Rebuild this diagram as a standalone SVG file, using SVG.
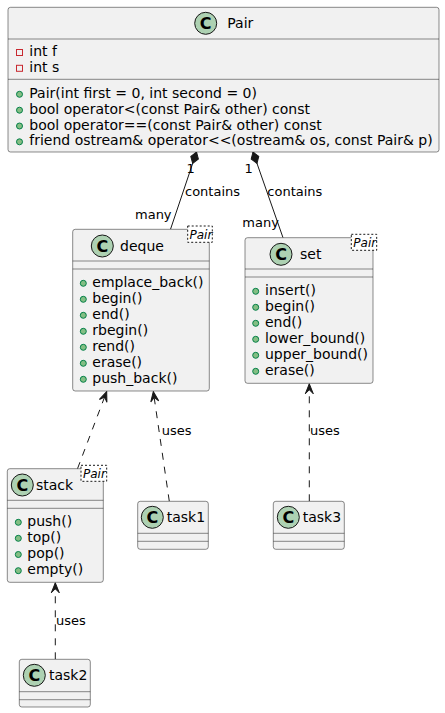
<svg xmlns="http://www.w3.org/2000/svg" width="445" height="713" viewBox="0 0 445 713">
<defs>
<style>
.box{fill:#F1F1F1;stroke:#181818;stroke-width:0.5}
.div{stroke:#181818;stroke-width:0.5}
.ci{fill:#ADD1B2;stroke:#181818;stroke-width:1}
.cl{font-family:"DejaVu Sans",sans-serif;font-size:16px;font-weight:bold;fill:#000;text-anchor:middle}
.t{font-family:"DejaVu Sans",sans-serif;font-size:14px;fill:#000}
.lbl{font-family:"DejaVu Sans",sans-serif;font-size:13px;fill:#000}
.tpl{fill:#FFFFFF;stroke:#181818;stroke-width:1;stroke-dasharray:2,2}
.tplt{font-family:"DejaVu Sans",sans-serif;font-size:12px;font-style:italic;fill:#000}
.pub{fill:#84BE84;stroke:#038048;stroke-width:1}
.priv{fill:none;stroke:#C82930;stroke-width:1}
.comp{fill:none;stroke:#181818;stroke-width:1}
.dep{fill:none;stroke:#181818;stroke-width:1;stroke-dasharray:7,7}
</style>
<marker id="diamond" markerUnits="userSpaceOnUse" markerWidth="14" markerHeight="10" refX="0" refY="5" viewBox="0 0 14 10" orient="auto" overflow="visible">
<path d="M0,5 L6,1 L12,5 L6,9 Z" fill="#181818" stroke="#181818" stroke-width="1"/>
</marker>
<marker id="arrow" markerUnits="userSpaceOnUse" markerWidth="12" markerHeight="10" refX="11" refY="5" viewBox="0 0 12 10" orient="auto" overflow="visible">
<path d="M11,5 L1,1 L5,5 L1,9 Z" fill="#181818" stroke="#181818" stroke-width="1"/>
</marker>
</defs>

<g id="connectors">
<path class="comp" d="M196.5,152 L170.5,229.3" marker-start="url(#diamond)"/>
<path class="comp" d="M253,152 L283,237.7" marker-start="url(#diamond)"/>
<path class="dep" d="M77.5,468.7 L106.7,391.5" marker-end="url(#arrow)"/>
<path class="dep" d="M169.3,501.3 L153.3,391.5" marker-end="url(#arrow)"/>
<path class="dep" d="M309.3,501.3 L309.3,383.8" marker-end="url(#arrow)"/>
<path class="dep" d="M55.3,659.3 L55.3,582.8" marker-end="url(#arrow)"/>
<text class="lbl" x="186.5" y="172.5">1</text>
<text class="lbl" x="185" y="196">contains</text>
<text class="lbl" x="135" y="219">many</text>
<text class="lbl" x="244.5" y="172.5">1</text>
<text class="lbl" x="267.3" y="196">contains</text>
<text class="lbl" x="242.3" y="227">many</text>
<text class="lbl" x="161.7" y="435">uses</text>
<text class="lbl" x="310" y="435">uses</text>
<text class="lbl" x="56" y="625">uses</text>
</g>

<g id="Pair">
<rect class="box" x="8" y="7.3" width="431" height="144.7" rx="2.5"/>
<circle class="ci" cx="205.7" cy="23.3" r="11"/>
<text class="cl" x="205.7" y="29">C</text>
<text class="t" x="227.3" y="28.3">Pair</text>
<line class="div" x1="8" y1="39" x2="439" y2="39"/>
<rect class="priv" x="16.5" y="49.5" width="6" height="6"/>
<text class="t" x="29.3" y="56">int f</text>
<rect class="priv" x="16.5" y="65.3" width="6" height="6"/>
<text class="t" x="29.3" y="71.8">int s</text>
<line class="div" x1="8" y1="79.3" x2="439" y2="79.3"/>
<circle class="pub" cx="19.5" cy="94.3" r="3"/>
<text class="t" x="29.3" y="97.8">Pair(int first = 0, int second = 0)</text>
<circle class="pub" cx="19.5" cy="110.2" r="3"/>
<text class="t" x="29.3" y="113.8">bool operator&lt;(const Pair&amp; other) const</text>
<circle class="pub" cx="19.5" cy="126" r="3"/>
<text class="t" x="29.3" y="129.6">bool operator==(const Pair&amp; other) const</text>
<circle class="pub" cx="19.5" cy="141.8" r="3"/>
<text class="t" x="29.3" y="145.4">friend ostream&amp; operator&lt;&lt;(ostream&amp; os, const Pair&amp; p)</text>
</g>

<g id="deque">
<rect class="box" x="72.7" y="229.3" width="136.6" height="161.7" rx="2.5"/>
<circle class="ci" cx="102.3" cy="246" r="11"/>
<text class="cl" x="102.3" y="251.7">C</text>
<text class="t" x="120" y="251">deque</text>
<rect class="tpl" x="187.7" y="226" width="24.6" height="16.3"/>
<text class="tplt" x="189.5" y="238.5">Pair</text>
<line class="div" x1="72.7" y1="261" x2="209.3" y2="261"/>
<line class="div" x1="72.7" y1="269" x2="209.3" y2="269"/>
<circle class="pub" cx="83.3" cy="283.3" r="3"/>
<text class="t" x="92.3" y="287">emplace_back()</text>
<circle class="pub" cx="83.3" cy="299.3" r="3"/>
<text class="t" x="92.3" y="303">begin()</text>
<circle class="pub" cx="83.3" cy="315.3" r="3"/>
<text class="t" x="92.3" y="319">end()</text>
<circle class="pub" cx="83.3" cy="331.3" r="3"/>
<text class="t" x="92.3" y="335">rbegin()</text>
<circle class="pub" cx="83.3" cy="347.3" r="3"/>
<text class="t" x="92.3" y="351">rend()</text>
<circle class="pub" cx="83.3" cy="363.3" r="3"/>
<text class="t" x="92.3" y="367">erase()</text>
<circle class="pub" cx="83.3" cy="379.3" r="3"/>
<text class="t" x="92.3" y="383">push_back()</text>
</g>

<g id="set">
<rect class="box" x="245" y="237.7" width="128" height="145.6" rx="2.5"/>
<circle class="ci" cx="281" cy="254.3" r="11"/>
<text class="cl" x="281" y="260">C</text>
<text class="t" x="300" y="259.3">set</text>
<rect class="tpl" x="351.3" y="234.3" width="25.4" height="16"/>
<text class="tplt" x="353.3" y="246.7">Pair</text>
<line class="div" x1="245" y1="269" x2="373" y2="269"/>
<line class="div" x1="245" y1="277" x2="373" y2="277"/>
<circle class="pub" cx="255.7" cy="291.3" r="3"/>
<text class="t" x="265" y="295">insert()</text>
<circle class="pub" cx="255.7" cy="307.3" r="3"/>
<text class="t" x="265" y="311">begin()</text>
<circle class="pub" cx="255.7" cy="323.3" r="3"/>
<text class="t" x="265" y="327">end()</text>
<circle class="pub" cx="255.7" cy="339.3" r="3"/>
<text class="t" x="265" y="343">lower_bound()</text>
<circle class="pub" cx="255.7" cy="355.3" r="3"/>
<text class="t" x="265" y="359">upper_bound()</text>
<circle class="pub" cx="255.7" cy="371.3" r="3"/>
<text class="t" x="265" y="375">erase()</text>
</g>

<g id="stack">
<rect class="box" x="7.3" y="468.7" width="96" height="113.6" rx="2.5"/>
<circle class="ci" cx="22.3" cy="485" r="11"/>
<text class="cl" x="22.3" y="490.7">C</text>
<text class="t" x="36" y="490">stack</text>
<rect class="tpl" x="81" y="465.3" width="25.7" height="16"/>
<text class="tplt" x="83" y="477.7">Pair</text>
<line class="div" x1="7.3" y1="500.3" x2="103.3" y2="500.3"/>
<line class="div" x1="7.3" y1="508.3" x2="103.3" y2="508.3"/>
<circle class="pub" cx="18.3" cy="522.3" r="3"/>
<text class="t" x="27.3" y="525.8">push()</text>
<circle class="pub" cx="18.3" cy="538.3" r="3"/>
<text class="t" x="27.3" y="541.8">top()</text>
<circle class="pub" cx="18.3" cy="554.5" r="3"/>
<text class="t" x="27.3" y="558">pop()</text>
<circle class="pub" cx="18.3" cy="570.7" r="3"/>
<text class="t" x="27.3" y="574.2">empty()</text>
</g>

<g id="task1">
<rect class="box" x="137.7" y="501.3" width="70.6" height="48" rx="2.5"/>
<circle class="ci" cx="152.3" cy="517.3" r="11"/>
<text class="cl" x="152.3" y="523">C</text>
<text class="t" x="166.7" y="522.3">task1</text>
<line class="div" x1="137.7" y1="533.3" x2="208.3" y2="533.3"/>
<line class="div" x1="137.7" y1="541.3" x2="208.3" y2="541.3"/>
</g>

<g id="task3">
<rect class="box" x="273.3" y="501.3" width="71" height="48" rx="2.5"/>
<circle class="ci" cx="288.3" cy="517.3" r="11"/>
<text class="cl" x="288.3" y="523">C</text>
<text class="t" x="302.7" y="522.3">task3</text>
<line class="div" x1="273.3" y1="533.3" x2="344.3" y2="533.3"/>
<line class="div" x1="273.3" y1="541.3" x2="344.3" y2="541.3"/>
</g>

<g id="task2">
<rect class="box" x="19.3" y="659.3" width="71" height="47.7" rx="2.5"/>
<circle class="ci" cx="34.3" cy="675.3" r="11"/>
<text class="cl" x="34.3" y="681">C</text>
<text class="t" x="49" y="680.3">task2</text>
<line class="div" x1="19.3" y1="691.7" x2="90.3" y2="691.7"/>
<line class="div" x1="19.3" y1="699.7" x2="90.3" y2="699.7"/>
</g>
</svg>
